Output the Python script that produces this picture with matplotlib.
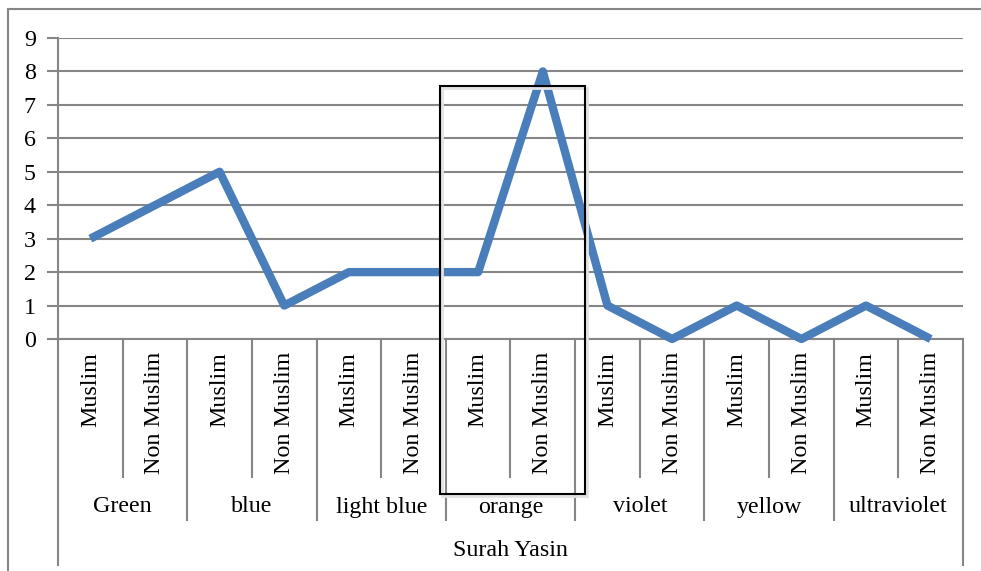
import matplotlib.pyplot as plt
import matplotlib.transforms as mtransforms
from matplotlib.patches import Rectangle
from matplotlib.lines import Line2D

plt.rcParams['font.family'] = ['Liberation Serif', 'DejaVu Serif']

# data
colours = ["Green", "blue", "light blue", "orange", "violet", "yellow", "ultraviolet"]
groups = ["Muslim", "Non Muslim"]
values = [3, 4, 5, 1, 2, 2, 2, 8, 1, 0, 1, 0, 1, 0]
outer_label = "Surah Yasin"

W, H = 981, 571
fig = plt.figure(figsize=(W / 100, H / 100), dpi=100)
ax = fig.add_axes([58 / W, 1 - 339 / H, (963 - 58) / W, (339 - 38) / H])

grey = "#868686"
fs = 17.3
n = len(values)
x = list(range(n))

ax.plot(x, values, color="#4A7EBB", lw=6.0, solid_joinstyle="round",
        solid_capstyle="butt", zorder=3, clip_on=False)

ax.set_xlim(-0.5, n - 0.5)
ax.set_ylim(0, 9)
ax.set_yticks(range(10))
ax.set_yticklabels([str(i) for i in range(10)], fontsize=fs)
ax.yaxis.grid(True, color=grey, lw=1.5)
ax.set_axisbelow(True)
ax.tick_params(axis="y", length=8, width=1.5, color=grey, pad=8)
ax.set_xticks([])
for s in ["top", "right"]:
    ax.spines[s].set_visible(False)
for s in ["left", "bottom"]:
    ax.spines[s].set_color(grey)
    ax.spines[s].set_linewidth(1.5)

trans = mtransforms.blended_transform_factory(ax.transData, ax.transAxes)
ph = 339 - 38
def ya(py):
    return (339 - py) / ph

# inner labels
for i in x:
    ax.text(i, ya(352), groups[i % 2], rotation=90, ha="center", va="top",
            fontsize=fs, transform=trans)
# separators
for i in range(n + 1):
    xb = i - 0.5
    if i in (0, n):
        yend = ya(565)
    elif i % 2 == 0:
        yend = ya(520)
    else:
        yend = ya(477)
    ax.plot([xb, xb], [0, yend], color=grey, lw=1.5, transform=trans, clip_on=False)
# colour labels
for k, c in enumerate(colours):
    ax.text(2 * k + 0.5, ya(507), c, ha="center", va="center", fontsize=fs, transform=trans)
ax.text((n - 1) / 2, ya(550), outer_label, ha="center", va="center", fontsize=fs, transform=trans)

# outer chart border (top and left only)
fig.lines.append(Line2D([8 / W, 1.0], [1 - 9 / H, 1 - 9 / H], transform=fig.transFigure,
                        color=grey, lw=1.5))
fig.lines.append(Line2D([8 / W, 8 / W], [0, 1 - 9 / H], transform=fig.transFigure,
                        color=grey, lw=1.5))
# highlight box with faint shadow
fig.patches.append(Rectangle((442 / W, 1 - 496 / H), (585 - 440) / W, (494 - 86) / H,
                             transform=fig.transFigure, fill=False, edgecolor="#e2e2e2", lw=2, zorder=4))
fig.patches.append(Rectangle((440 / W, 1 - 494 / H), (585 - 440) / W, (494 - 86) / H,
                             transform=fig.transFigure, fill=False, edgecolor="black", lw=1.5, zorder=5))

fig.savefig("out.png", dpi=100)
